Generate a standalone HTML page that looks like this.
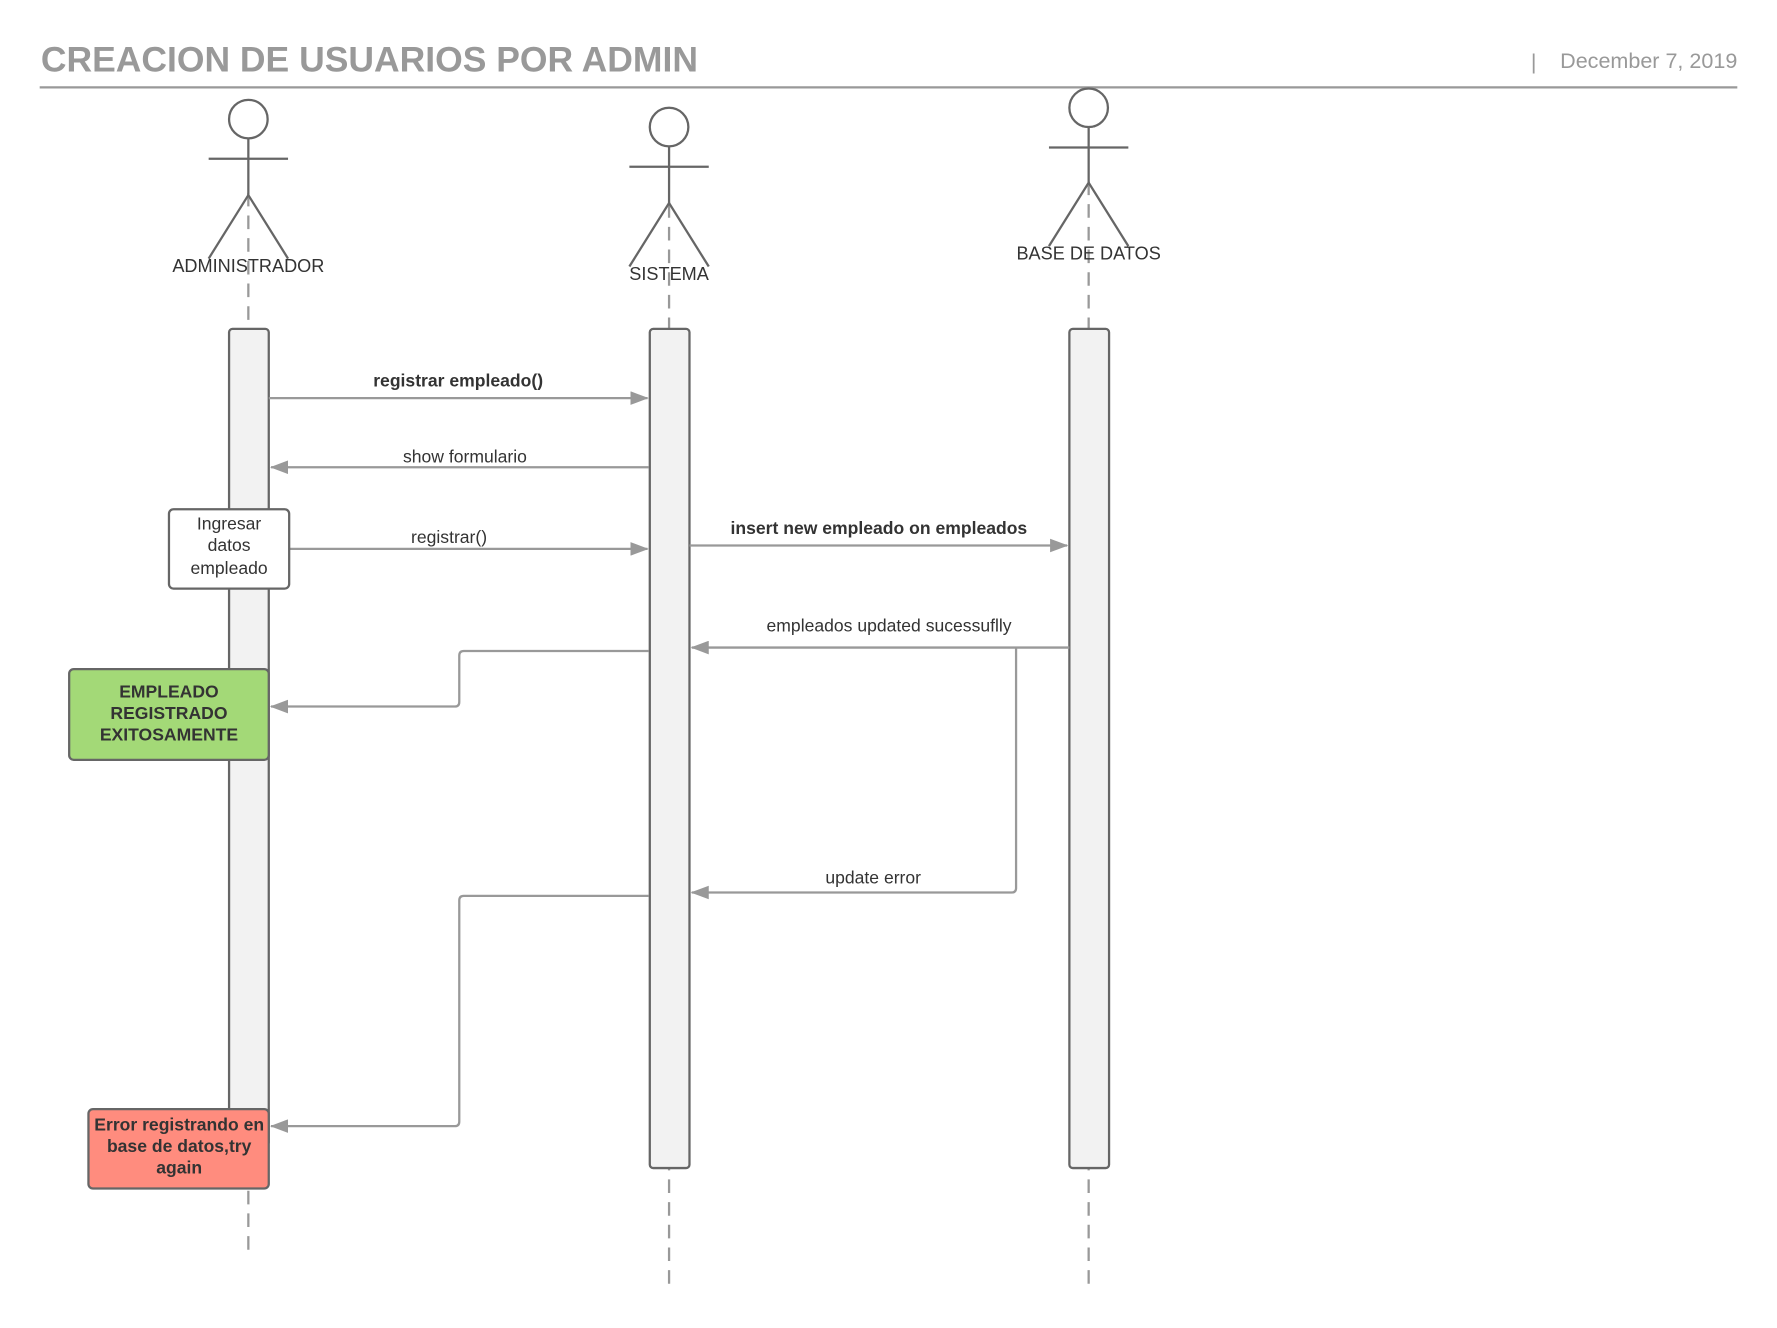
<!DOCTYPE html>
<html><head><meta charset="utf-8"><style>
html,body{margin:0;padding:0;background:#fff;}
svg{display:block;}
text{font-family:"Liberation Sans",Arial,sans-serif;}
</style></head><body>
<svg width="1777" height="1328" viewBox="0 0 1567 1171" xmlns="http://www.w3.org/2000/svg">
<defs>
<marker id="a" markerWidth="16" markerHeight="12" refX="15" refY="6" orient="auto" markerUnits="userSpaceOnUse">
<path d="M0,0 L16,6 L0,12 z" fill="#999"/></marker>
</defs>
<text x="36" y="63" font-size="31.3" font-weight="bold" fill="#999">CREACION DE USUARIOS POR ADMIN</text>
<text x="1350" y="61" font-size="19" fill="#999">|</text>
<text x="1532" y="60" font-size="19" fill="#999" text-anchor="end">December 7, 2019</text>
<line x1="35" y1="77" x2="1532" y2="77" stroke="#999" stroke-width="2"/>

<g stroke="#999" stroke-width="2" stroke-dasharray="12,8" fill="none">
<line x1="219" y1="170" x2="219" y2="1105"/>
<line x1="590" y1="180" x2="590" y2="1140"/>
<line x1="960" y1="160" x2="960" y2="1140"/>
</g>

<g stroke="#666" stroke-width="2" fill="none">
<circle cx="219" cy="105" r="17" fill="#fff"/>
<line x1="184" y1="140" x2="254" y2="140"/><line x1="219" y1="122" x2="219" y2="172"/>
<polyline points="184,228 219,172 254,228"/>
<circle cx="590" cy="112" r="17" fill="#fff"/>
<line x1="555" y1="147" x2="625" y2="147"/><line x1="590" y1="129" x2="590" y2="179"/>
<polyline points="555,235 590,179 625,235"/>
<circle cx="960" cy="95" r="17" fill="#fff"/>
<line x1="925" y1="130" x2="995" y2="130"/><line x1="960" y1="112" x2="960" y2="161"/>
<polyline points="925,217 960,161 995,217"/>
</g>
<g font-size="16" fill="#333" text-anchor="middle">
<text x="219" y="240">ADMINISTRADOR</text>
<text x="590" y="247">SISTEMA</text>
<text x="960" y="229">BASE DE DATOS</text>
</g>

<g fill="#f2f2f2" stroke="#666" stroke-width="2">
<rect x="202" y="290" width="35" height="720" rx="3"/>
<rect x="573" y="290" width="35" height="740" rx="3"/>
<rect x="943" y="290" width="35" height="740" rx="3"/>
</g>

<g stroke="#999" stroke-width="2" fill="none" marker-end="url(#a)">
<line x1="237" y1="351" x2="571" y2="351"/>
<line x1="572" y1="412" x2="239" y2="412"/>
<line x1="255" y1="484" x2="571" y2="484"/>
<line x1="608" y1="481" x2="941" y2="481"/>
<line x1="943" y1="571" x2="610" y2="571"/>
<path d="M572,574 H409 Q405,574 405,578 V619 Q405,623 401,623 H239"/>
<path d="M896,571 V783 Q896,787 892,787 H610"/>
<path d="M572,790 H409 Q405,790 405,794 V989 Q405,993 401,993 H239"/>
</g>

<g font-size="15.5" fill="#333" text-anchor="middle">
<text x="404" y="341" font-weight="bold">registrar empleado()</text>
<text x="410" y="408">show formulario</text>
<text x="396" y="479">registrar()</text>
<text x="775" y="471" font-weight="bold">insert new empleado on empleados</text>
<text x="784" y="557">empleados updated sucessuflly</text>
<text x="770" y="779">update error</text>
</g>

<rect x="149" y="449" width="106" height="70" rx="4" fill="#fff" stroke="#666" stroke-width="2"/>
<g font-size="15.5" fill="#333" text-anchor="middle">
<text x="202" y="467">Ingresar</text><text x="202" y="486">datos</text><text x="202" y="506">empleado</text>
</g>

<rect x="61" y="590" width="176" height="80" rx="4" fill="#a3d977" stroke="#666" stroke-width="2"/>
<g font-size="15.5" font-weight="bold" fill="#333" text-anchor="middle">
<text x="149" y="615">EMPLEADO</text><text x="149" y="634">REGISTRADO</text><text x="149" y="653">EXITOSAMENTE</text>
</g>

<rect x="78" y="978" width="159" height="70" rx="4" fill="#ff8c7e" stroke="#666" stroke-width="2"/>
<g font-size="15.5" font-weight="bold" fill="#333" text-anchor="middle">
<text x="158" y="997">Error registrando en</text><text x="158" y="1016">base de datos,try</text><text x="158" y="1035">again</text>
</g>
</svg>
</body></html>
